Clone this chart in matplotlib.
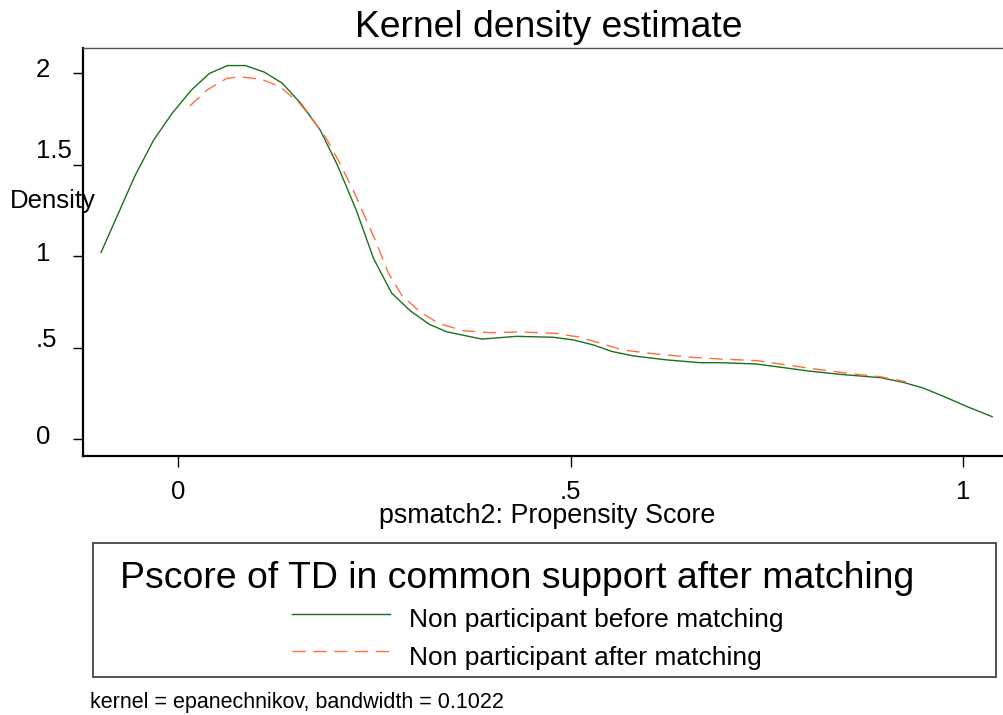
import matplotlib
matplotlib.use("Agg")
import matplotlib.pyplot as plt
from matplotlib.lines import Line2D
from matplotlib.patches import Rectangle
from matplotlib.transforms import ScaledTranslation

plt.rcParams['font.family'] = ['Liberation Sans', 'DejaVu Sans']
plt.rcParams['lines.scale_dashes'] = False

# kernel density, non participants before matching
before_x = [-0.098, -0.076, -0.055, -0.031, -0.007, 0.017, 0.040, 0.063, 0.086, 0.110,
            0.133, 0.157, 0.181, 0.203, 0.227, 0.249, 0.272, 0.296, 0.320, 0.342,
            0.387, 0.431, 0.478, 0.504, 0.529, 0.552, 0.580, 0.623, 0.665, 0.691,
            0.736, 0.768, 0.802, 0.844, 0.895, 0.925, 0.950, 0.976, 1.005, 1.037]
before_y = [1.020, 1.233, 1.437, 1.634, 1.783, 1.907, 1.998, 2.041, 2.041, 2.005,
            1.944, 1.831, 1.689, 1.497, 1.251, 0.987, 0.798, 0.700, 0.627, 0.586,
            0.546, 0.561, 0.556, 0.541, 0.514, 0.479, 0.454, 0.432, 0.417, 0.417,
            0.410, 0.392, 0.372, 0.353, 0.335, 0.308, 0.277, 0.231, 0.177, 0.122]

# non participants after matching
after_x = [0.015, 0.037, 0.062, 0.079, 0.107, 0.130, 0.155, 0.172, 0.189, 0.206,
           0.223, 0.238, 0.253, 0.268, 0.285, 0.308, 0.332, 0.363, 0.397, 0.436,
           0.482, 0.512, 0.538, 0.567, 0.610, 0.656, 0.691, 0.738, 0.776, 0.814,
           0.857, 0.895, 0.927]
after_y = [1.820, 1.907, 1.971, 1.980, 1.965, 1.925, 1.834, 1.743, 1.643, 1.507,
           1.361, 1.215, 1.069, 0.906, 0.785, 0.696, 0.632, 0.592, 0.581, 0.585,
           0.577, 0.556, 0.523, 0.486, 0.464, 0.446, 0.437, 0.428, 0.404, 0.381,
           0.357, 0.340, 0.313]

yticks = [0, 0.5, 1, 1.5, 2]
ytick_labels = ['0', '.5', '1', '1.5', '2']
xticks = [0, 0.5, 1]
xtick_labels = ['0', '.5', '1']
legend_labels = ['Non participant before matching', 'Non participant after matching']

W, H = 1004, 715
fig = plt.figure(figsize=(W / 100, H / 100), dpi=100)


def fx(px):
    return px / W


def fy(py):
    return 1 - py / H


ax = fig.add_axes([fx(83), fy(456), 1 - fx(83), fy(48) - fy(456)])
ax.set_xlim(-0.121, 1.052)
ax.set_ylim(-0.093, 2.137)

green = dict(color='#1c6f1c', lw=1.0)
orange = dict(color='#ff6d3f', lw=1.0, ls=(0, (9.5, 5.5)))
ax.plot(before_x, before_y, **green)
ax.plot(after_x, after_y, **orange)

ax.spines['right'].set_visible(False)
ax.spines['top'].set_color('#555555')
ax.spines['top'].set_linewidth(1.0)
for s in ('left', 'bottom'):
    ax.spines[s].set_linewidth(1.6)

ax.set_yticks(yticks, ytick_labels, fontsize=18.5)
ax.tick_params(axis='y', length=7.5, width=1, pad=26.5)
# the original's labels sit a little above their ticks, unevenly (px)
nudge = [4, 10, 5, 16, 6]
for t, d in zip(ax.get_yticklabels(), nudge):
    t.set_ha('left')
    t.set_transform(t.get_transform() + ScaledTranslation(0, d / 100, fig.dpi_scale_trans))
ax.set_xticks(xticks, xtick_labels, fontsize=18.5)
ax.tick_params(axis='x', length=8, width=1, pad=9)

fig.text(fx(549), fy(37), 'Kernel density estimate', ha='center', va='baseline', fontsize=26.8)
fig.text(fx(10), fy(201), 'Density', ha='left', va='center', fontsize=18.5)
fig.text(fx(547), fy(516), 'psmatch2: Propensity Score', ha='center', va='center', fontsize=19.4)

# legend box drawn by hand
fig.add_artist(Rectangle((fx(93), fy(677)), fx(996) - fx(93), fy(543) - fy(677),
                         transform=fig.transFigure, fill=False, ec='#333333', lw=1.2))
fig.text(fx(517), fy(588), 'Pscore of TD in common support after matching',
         ha='center', va='baseline', fontsize=26.9)
for style, label, ly, ty in ((green, legend_labels[0], 614, 627),
                             (orange, legend_labels[1], 651, 665)):
    fig.add_artist(Line2D([fx(292), fx(390)], [fy(ly), fy(ly)],
                          transform=fig.transFigure, **style))
    fig.text(fx(409), fy(ty), label, ha='left', va='baseline', fontsize=19)

fig.text(fx(90), fy(708), 'kernel = epanechnikov, bandwidth = 0.1022',
         ha='left', va='baseline', fontsize=15.5)

fig.savefig('out.png', dpi=100)
